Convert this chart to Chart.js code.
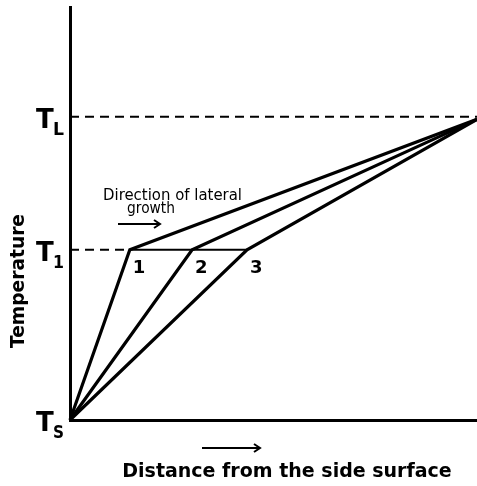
<!DOCTYPE html>
<html>
<head>
<meta charset="utf-8">
<script src="https://cdn.jsdelivr.net/npm/chart.js@4/dist/chart.umd.min.js"></script>
<style>
  html, body { margin: 0; padding: 0; background: #fff; }
  #wrap { width: 477px; height: 486px; }
</style>
</head>
<body>
<div id="wrap"><canvas id="profileChart" width="477" height="486"></canvas></div>
<script>
    // distance from the side surface (0..100), temperature (0..100, arbitrary)
    const frontLabels = ['1', '2', '3'];
    const frontX = [14.7, 30, 43.5];      // interface positions at T1
    const tempSurface = 0;                // Ts
    const tempInterface = 41.2;           // T1
    const tempLiquidus = 73.4;            // TL
    const farX = 100;
    const farTemp = 72.8;                 // where the profiles meet at the right
    const tempTickNames = ['T', 'T', 'T'];
    const tempTickSubs = ['S', '1', 'L'];
    const tempTickValues = [tempSurface, tempInterface, tempLiquidus];

    const profiles = frontX.map(function(fx) {
        return {
            data: [{x: 0, y: tempSurface}, {x: fx, y: tempInterface}, {x: farX, y: farTemp}],
            borderColor: '#000',
            borderWidth: 3.2,
            pointRadius: 0,
            tension: 0,
            clip: false
        };
    });

    const guideLines = [
        {   // TL dashed
            data: [{x: 0, y: tempLiquidus}, {x: farX, y: tempLiquidus}],
            borderColor: '#000', borderWidth: 2, borderDash: [9, 6], pointRadius: 0, clip: false
        },
        {   // T1 dashed up to point 1
            data: [{x: 0, y: tempInterface}, {x: frontX[0], y: tempInterface}],
            borderColor: '#000', borderWidth: 2, borderDash: [9, 6], pointRadius: 0
        },
        {   // T1 solid from point 1 to point 3
            data: [{x: frontX[0], y: tempInterface}, {x: frontX[2], y: tempInterface}],
            borderColor: '#000', borderWidth: 2, pointRadius: 0
        }
    ];

    function arrow(ctx, x1, x2, y) {
        ctx.beginPath();
        ctx.moveTo(x1, y);
        ctx.lineTo(x2, y);
        ctx.moveTo(x2 - 6, y - 4);
        ctx.lineTo(x2, y);
        ctx.lineTo(x2 - 6, y + 4);
        ctx.stroke();
    }

    const labelsPlugin = {
        id: 'sketchLabels',
        afterDraw: function(chart) {
            const ctx = chart.ctx;
            const xs = chart.scales.x, ys = chart.scales.y;
            ctx.save();
            ctx.fillStyle = '#000';
            ctx.strokeStyle = '#000';
            ctx.lineWidth = 2;

            // temperature marks on the left
            tempTickValues.forEach(function(v, i) {
                const py = ys.getPixelForValue(v);
                ctx.font = 'bold 26px "DejaVu Sans"';
                ctx.textAlign = 'left';
                ctx.textBaseline = 'alphabetic';
                ctx.fillText(tempTickNames[i], 36, py + 11, 18);
                ctx.font = 'bold 18px "DejaVu Sans"';
                ctx.fillText(tempTickSubs[i], 53, py + 18, 11);
            });

            // front labels 1 2 3
            ctx.font = 'bold 18px "DejaVu Sans"';
            ctx.textAlign = 'left';
            frontX.forEach(function(fx, i) {
                const px = xs.getPixelForValue(fx);
                ctx.fillText(frontLabels[i], px + 3, ys.getPixelForValue(tempInterface) + 23);
            });

            // annotation
            ctx.font = '15px "DejaVu Sans"';
            ctx.textAlign = 'left';
            ctx.fillText('Direction of lateral', 103, 200, 139);
            ctx.fillText('growth', 127, 213, 48);
            arrow(ctx, 118, 160, 224);

            // axis titles
            ctx.font = 'bold 19px "DejaVu Sans"';
            ctx.textAlign = 'center';
            ctx.fillText('Distance from the side surface', 287, 477, 338);
            arrow(ctx, 202, 260, 448);

            ctx.translate(24, 281);
            ctx.rotate(-Math.PI / 2);
            ctx.fillText('Temperature', 0, 0, 134);
            ctx.restore();
        }
    };

    const zeroSize = function(scale) {
        if (scale.isHorizontal()) scale.height = 0; else scale.width = 0;
    };

    new Chart(document.getElementById('profileChart').getContext('2d'), {
        type: 'line',
        data: { datasets: guideLines.concat(profiles) },
        options: {
            responsive: false,
            animation: false,
            layout: { padding: { left: 70, right: 0, top: 7, bottom: 66 } },
            plugins: { legend: { display: false }, tooltip: { enabled: false } },
            scales: {
                x: {
                    type: 'linear', min: 0, max: 100,
                    grid: { display: false },
                    ticks: { display: false },
                    border: { color: '#000', width: 3 },
                    afterFit: zeroSize
                },
                y: {
                    type: 'linear', min: 0, max: 100,
                    grid: { display: false },
                    ticks: { display: false },
                    border: { color: '#000', width: 3 },
                    afterFit: zeroSize
                }
            }
        },
        plugins: [labelsPlugin]
    });
</script>
</body>
</html>
